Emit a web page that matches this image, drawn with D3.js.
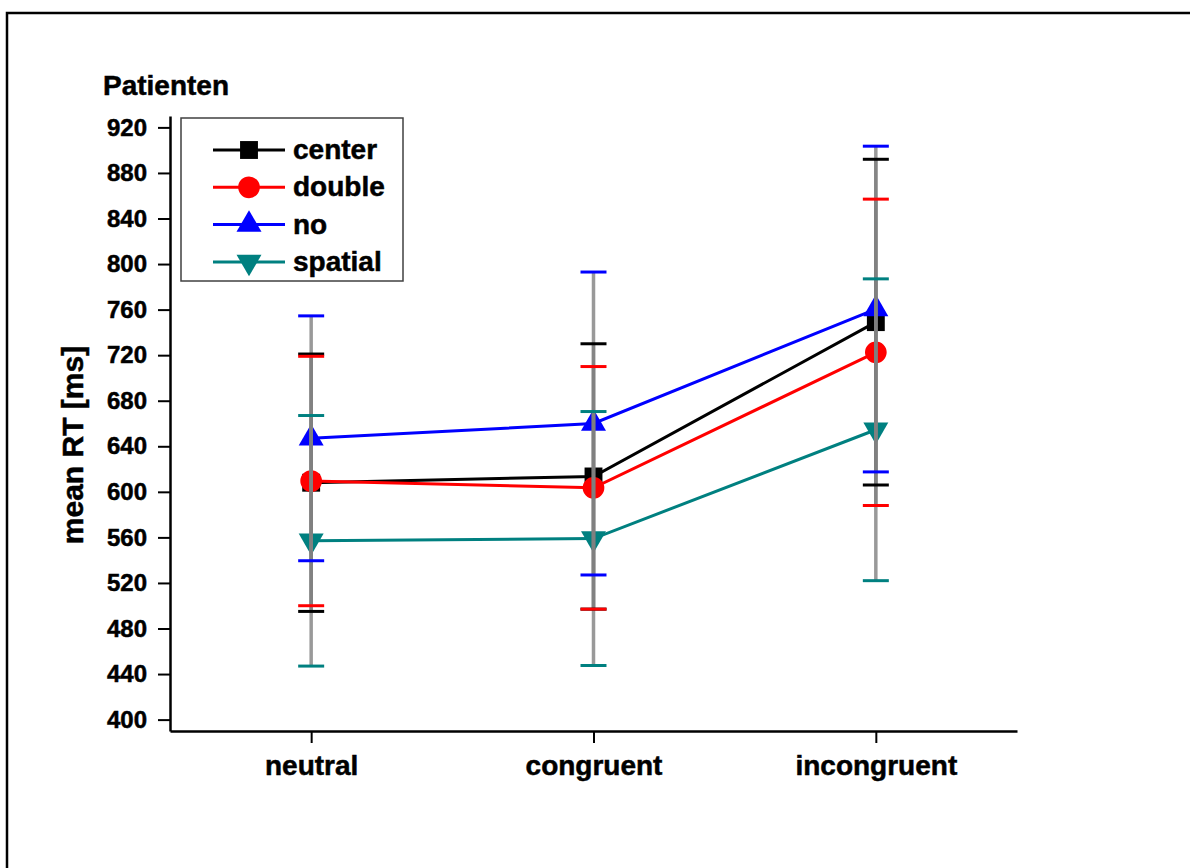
<!DOCTYPE html>
<html>
<head>
<meta charset="utf-8">
<script src="https://cdn.jsdelivr.net/npm/d3@7"></script>
<style>
  html, body { margin: 0; padding: 0; background: #fff; }
  svg { display: block; }
  text { font-family: "Liberation Sans", Arial, sans-serif; font-weight: bold; fill: #000; stroke: #000; stroke-width: 0.5px; }
</style>
</head>
<body>
<div id="chart"></div>
<script>
// values
var categories = ['neutral', 'congruent', 'incongruent'];
var seriesNames = ['center', 'double', 'no', 'spatial'];
var centerMeans = [608, 613.5, 749];
var centerErrors = [113, 116.5, 143];
var doubleMeans = [609.5, 603.5, 722.5];
var doubleErrors = [109.5, 106.5, 134.5];
var noMeans = [647, 660, 760.5];
var noErrors = [107.5, 133, 143];
var spatialMeans = [557, 559, 654.5];
var spatialErrors = [110, 111.5, 132.5];
var yTickValues = [400, 440, 480, 520, 560, 600, 640, 680, 720, 760, 800, 840, 880, 920];
var yMinorValues = [420, 460, 500, 540, 580, 620, 660, 700, 740, 780, 820, 860, 900];

var colors = { center: '#000000', double: '#ff0000', no: '#0000ff', spatial: '#008080' };
var shapes = { center: 'square', double: 'circle', no: 'up', spatial: 'down' };

var series = [
    { name: 'center', means: centerMeans, errors: centerErrors },
    { name: 'double', means: doubleMeans, errors: doubleErrors },
    { name: 'no', means: noMeans, errors: noErrors },
    { name: 'spatial', means: spatialMeans, errors: spatialErrors }
];

var width = 1190, height = 868;
var plot = { left: 170, right: 1017, top: 116, bottom: 731 };

var svg = d3.select('#chart').append('svg')
    .attr('width', width)
    .attr('height', height);

// outer frame (only top and left edges fall inside the picture)
svg.append('rect')
    .attr('x', 7).attr('y', 13)
    .attr('width', 1300).attr('height', 1000)
    .style('fill', 'none')
    .style('stroke', '#000')
    .style('stroke-width', 2.5);

var x = d3.scalePoint()
    .domain(categories)
    .range([plot.left, plot.right])
    .padding(0.5);

var y = d3.scaleLinear()
    .domain([390, 930])
    .range([plot.bottom, plot.top]);

function symbolPath(shape) {
    if (shape === 'square') return d3.symbol(d3.symbolSquare, 320)();
    if (shape === 'circle') return d3.symbol(d3.symbolCircle, 370)();
    return d3.symbol(d3.symbolTriangle, 270)();
}

// y axis
var yAxisG = svg.append('g')
    .attr('transform', 'translate(' + plot.left + ',0)');
yAxisG.call(d3.axisLeft(y).tickValues(yMinorValues).tickSize(6).tickSizeOuter(0).tickFormat(''));
yAxisG.call(d3.axisLeft(y).tickValues(yTickValues).tickSize(12).tickSizeOuter(0).tickPadding(11));
yAxisG.selectAll('.domain').style('stroke-width', 2.5);
yAxisG.selectAll('.tick line').style('stroke-width', 2);
yAxisG.selectAll('.tick text')
    .style('font-size', '24px')
    .style('font-family', '"Liberation Sans", Arial, sans-serif')
    .style('font-weight', 'bold');

// x axis
var xEdges = d3.scaleLinear().domain([0, categories.length]).range([plot.left, plot.right]);
var xAxisG = svg.append('g')
    .attr('transform', 'translate(0,' + plot.bottom + ')');
xAxisG.call(d3.axisBottom(xEdges).tickValues(d3.range(categories.length + 1)).tickSize(6).tickSizeOuter(0).tickFormat(''));
xAxisG.call(d3.axisBottom(x).tickSize(12).tickSizeOuter(0).tickPadding(12));
xAxisG.selectAll('.domain').style('stroke-width', 2.5);
xAxisG.selectAll('.tick line').style('stroke-width', 2);
xAxisG.selectAll('.tick text')
    .style('font-size', '28px')
    .style('font-family', '"Liberation Sans", Arial, sans-serif')
    .style('font-weight', 'bold');

// title and axis label
svg.append('text')
    .attr('x', 103).attr('y', 95)
    .style('font-size', '28px')
    .text('Patienten');

svg.append('text')
    .attr('transform', 'translate(83,445) rotate(-90)')
    .attr('text-anchor', 'middle')
    .style('font-size', '30px')
    .text('mean RT [ms]');

// series lines
var line = d3.line()
    .x(function(d, i) { return x(categories[i]); })
    .y(function(d) { return y(d); });

var plotG = svg.append('g');

plotG.selectAll('.series-line')
    .data(series)
    .enter().append('path')
    .attr('class', 'series-line')
    .attr('d', function(s) { return line(s.means); })
    .style('fill', 'none')
    .style('stroke', function(s) { return colors[s.name]; })
    .style('stroke-width', 3);

// markers
series.forEach(function(s) {
    plotG.selectAll('.marker-' + s.name)
        .data(s.means)
        .enter().append('path')
        .attr('class', 'marker-' + s.name)
        .attr('d', symbolPath(shapes[s.name]))
        .attr('transform', function(d, i) {
            var t = 'translate(' + x(categories[i]) + ',' + y(d) + ')';
            return shapes[s.name] === 'down' ? t + ' rotate(180)' : t;
        })
        .style('fill', colors[s.name]);
});

// error bars: grey stems, coloured caps
series.forEach(function(s) {
    plotG.selectAll('.stem-' + s.name)
        .data(s.means)
        .enter().append('line')
        .attr('class', 'stem-' + s.name)
        .attr('x1', function(d, i) { return x(categories[i]); })
        .attr('x2', function(d, i) { return x(categories[i]); })
        .attr('y1', function(d, i) { return y(d - s.errors[i]); })
        .attr('y2', function(d, i) { return y(d + s.errors[i]); })
        .style('stroke', '#808080')
        .style('stroke-opacity', 0.8)
        .style('stroke-width', 3.5);
});

series.forEach(function(s) {
    var caps = [];
    s.means.forEach(function(m, i) {
        caps.push({ cat: categories[i], v: m + s.errors[i] });
        caps.push({ cat: categories[i], v: m - s.errors[i] });
    });
    plotG.selectAll('.cap-' + s.name)
        .data(caps)
        .enter().append('line')
        .attr('class', 'cap-' + s.name)
        .attr('x1', function(d) { return x(d.cat) - 13; })
        .attr('x2', function(d) { return x(d.cat) + 13; })
        .attr('y1', function(d) { return y(d.v); })
        .attr('y2', function(d) { return y(d.v); })
        .style('stroke', colors[s.name])
        .style('stroke-width', 3);
});

// legend
var legend = svg.append('g').attr('transform', 'translate(181,118)');
legend.append('rect')
    .attr('width', 222).attr('height', 163)
    .style('fill', '#fff')
    .style('stroke', '#404040')
    .style('stroke-width', 1.5);

var rows = legend.selectAll('.legend-row')
    .data(seriesNames)
    .enter().append('g')
    .attr('class', 'legend-row')
    .attr('transform', function(d, i) { return 'translate(0,' + (32 + i * 37.3) + ')'; });

rows.append('line')
    .attr('x1', 32).attr('x2', 104)
    .style('stroke', function(d) { return colors[d]; })
    .style('stroke-width', 3);

rows.append('path')
    .attr('d', function(d) { return symbolPath(shapes[d]); })
    .attr('transform', function(d) {
        return shapes[d] === 'down' ? 'translate(68,0) rotate(180)' : 'translate(68,0)';
    })
    .style('fill', function(d) { return colors[d]; });

rows.append('text')
    .attr('x', 112).attr('y', 9)
    .style('font-size', '28px')
    .text(function(d) { return d; });
</script>
</body>
</html>
